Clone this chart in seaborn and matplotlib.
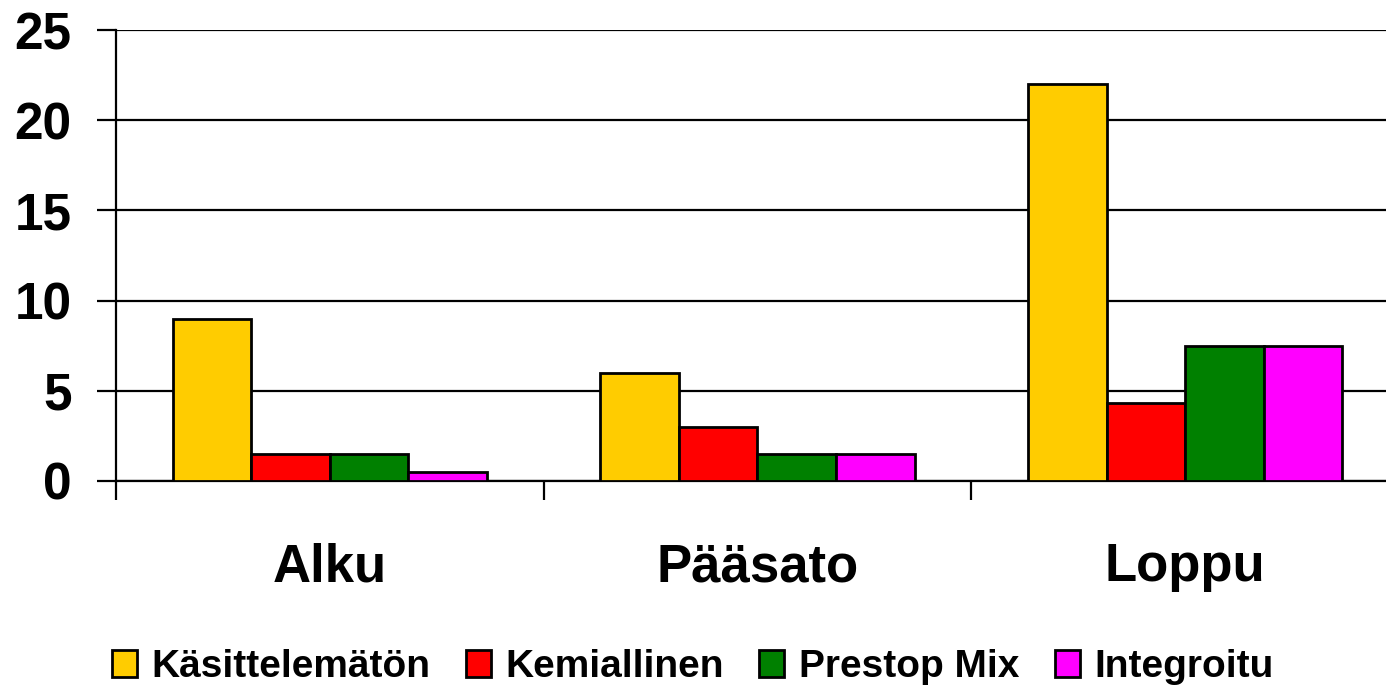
import matplotlib
matplotlib.use("Agg")
import matplotlib.pyplot as plt
import seaborn as sns
import pandas as pd
from matplotlib.ticker import FixedLocator
from matplotlib.patches import Patch

categories = ["Alku", "Pääsato", "Loppu"]
series_names = ["Käsittelemätön", "Kemiallinen", "Prestop Mix", "Integroitu"]
kasittelematon = [9.0, 6.0, 22.0]
kemiallinen = [1.5, 3.0, 4.3]
prestop = [1.5, 1.5, 7.5]
integroitu = [0.5, 1.5, 7.5]
colors = ["#FFCC00", "#FF0000", "#008000", "#FF00FF"]
yticks = [0, 5, 10, 15, 20, 25]

rows = []
for name, vals in zip(series_names, [kasittelematon, kemiallinen, prestop, integroitu]):
    for c, v in zip(categories, vals):
        rows.append({"cat": c, "series": name, "value": v})
df = pd.DataFrame(rows)

sns.set_style("white")
plt.rcParams["font.family"] = ["Liberation Sans", "DejaVu Sans"]
plt.rcParams["font.weight"] = "bold"
plt.rcParams["text.color"] = "black"
plt.rcParams["xtick.color"] = "black"
plt.rcParams["ytick.color"] = "black"

fig = plt.figure(figsize=(13.86, 6.91), dpi=100)
ax = fig.add_axes([116/1386, 210/691, 1283/1386, 451/691])

sns.barplot(data=df, x="cat", y="value", hue="series", order=categories,
            hue_order=series_names, palette=colors, saturation=1, width=0.735,
            edgecolor="black", linewidth=2, ax=ax, legend=False, zorder=3)

ax.set_xlim(-0.5, 2.5)
ax.set_ylim(0, 25)
ax.set_yticks(yticks)
ax.set_yticklabels([str(t) for t in yticks], fontsize=37, fontweight="bold", color="black")
ax.yaxis.grid(True, color="black", linewidth=1.6, zorder=0)
ax.set_axisbelow(True)
ax.tick_params(axis="y", length=14, width=1.6, color="black", pad=18, left=True)

ax.set_xticks(range(len(categories)))
ax.set_xticklabels(categories, fontsize=38, fontweight="bold", color="black")
ax.xaxis.set_minor_locator(FixedLocator([-0.5, 0.5, 1.5, 2.5]))
ax.tick_params(axis="x", which="major", length=0, pad=44)
ax.tick_params(axis="x", which="minor", length=14, width=1.6, color="black", bottom=True)
ax.set_xlabel("")
ax.set_ylabel("")

for s in ["top", "right"]:
    ax.spines[s].set_visible(False)
for s in ["left", "bottom"]:
    ax.spines[s].set_color("black")
    ax.spines[s].set_linewidth(1.6)

handles = [Patch(facecolor=c, edgecolor="black", linewidth=2) for c in colors]
fig.legend(handles, series_names, loc="center", bbox_to_anchor=(0.5, 1 - 667/691),
           ncol=4, frameon=False, prop={"size": 28, "weight": "bold"},
           handlelength=0.64, handleheight=0.67, handletextpad=0.39, columnspacing=0.9)

fig.savefig("out.png", dpi=100)
